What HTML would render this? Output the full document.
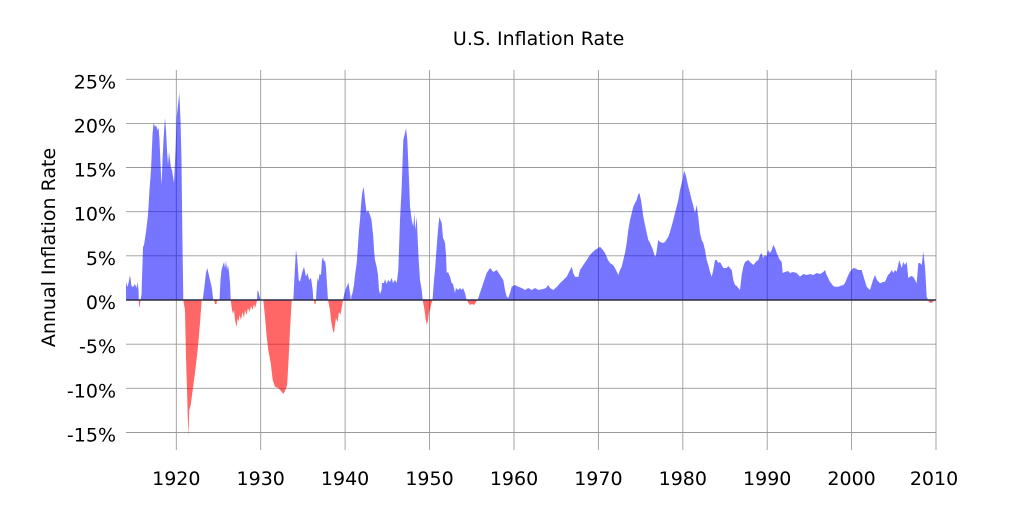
<!DOCTYPE html>
<html>
<head>
<meta charset="utf-8">
<style>
  html, body { margin:0; padding:0; background:#ffffff; }
  svg { display:block; }
  text { font-family: "DejaVu Sans", "Liberation Sans", sans-serif; fill:#000; }
</style>
</head>
<body>
<svg width="1024" height="512" viewBox="0 0 1024 512" xmlns="http://www.w3.org/2000/svg">
  <rect x="0" y="0" width="1024" height="512" fill="#ffffff"/>
  <defs>
    <clipPath id="above"><rect x="0" y="0" width="1024" height="300"/></clipPath>
    <clipPath id="below"><rect x="0" y="300" width="1024" height="212"/></clipPath>
  </defs>

  <!-- horizontal gridlines -->
  <g stroke="#9a9a9a" stroke-width="0.9">
    <line x1="126" y1="79.3" x2="936" y2="79.3"/>
    <line x1="126" y1="123.4" x2="936" y2="123.4"/>
    <line x1="126" y1="167.5" x2="936" y2="167.5"/>
    <line x1="126" y1="211.7" x2="936" y2="211.7"/>
    <line x1="126" y1="255.8" x2="936" y2="255.8"/>
    <line x1="126" y1="344.2" x2="936" y2="344.2"/>
    <line x1="126" y1="388.3" x2="936" y2="388.3"/>
    <line x1="126" y1="432.5" x2="936" y2="432.5"/>
  </g>
  <!-- vertical gridlines -->
  <g stroke="#9a9a9a" stroke-width="0.9">
    <line x1="176.3" y1="70" x2="176.3" y2="450"/>
    <line x1="260.7" y1="70" x2="260.7" y2="450"/>
    <line x1="345.1" y1="70" x2="345.1" y2="450"/>
    <line x1="429.5" y1="70" x2="429.5" y2="450"/>
    <line x1="514" y1="70" x2="514" y2="450"/>
    <line x1="598.4" y1="70" x2="598.4" y2="450"/>
    <line x1="682.8" y1="70" x2="682.8" y2="450"/>
    <line x1="767.2" y1="70" x2="767.2" y2="450"/>
    <line x1="851.6" y1="70" x2="851.6" y2="450"/>
    <line x1="936" y1="70" x2="936" y2="450"/>
  </g>

  <!-- data polygon (reused) -->
  <defs>
    <polygon id="series" points="
126,300 126,282 127.5,287 128.5,283 130,275 131.5,286 133,287 135,284 136.5,288 137.5,282 138.5,290 139,305 139.5,308 140.5,300 141.5,295 143,247 144,245 146,232 148,215 149.5,190 151,170 152.5,135 153.5,123 155,127 156,125 157.5,130 158.5,128 159.5,140 161,175 161.7,185 162.5,160 163.5,140 165,118 166,130 167,150 168,165 169,152 170,160 171,168 172,170 174,183 175.5,150 176.7,117 178,105 179.3,93 180.5,120 181.5,160 182.3,230 183.3,300
185,310 186,356.7 187.3,400 188.3,436.7 189.3,410 190.7,405 192.7,390 195,373 197.3,353 198.3,343 200,323 201.7,300
202.7,300 204,290 206,273 207.3,268 209.3,277 211.7,287 213.3,300
214,300 215,304 216.5,304 217,300
219.5,300 220.5,280 221.5,270 223,265 224,262 225,268 226,261 227,270 228,265 229,272 230,283 230.7,300
232,310 233,314 234,310 235,320 236.7,327 237.5,318 238.5,322 239.5,315 241,320 242.5,312 244,318 245,310 246.5,315 248,308 249.5,312 251,306 252.5,310 254,304 255,308 256.5,303 257,300
257.5,290 258.5,292 259.5,296 260.5,300
263.3,300 265,316.7 266.7,336.7 268.3,350 270.7,363 272.7,380 275,386.7 278.3,388 281.7,391.7 283.3,394 285,391 286.7,386.7 287.3,383 288.7,356.7 290,330 291.7,300
293.3,300 295,266.7 296,250 297.3,260 298.7,280 300,281.7 302,273 304,266.7 306,276.7 307.3,273 309.3,280 311,278 312.7,290 313.3,300
314,300 314.5,304 315.5,304 316,300
316.5,290 317.5,278 318.5,281 319.5,274 321,275 322,260 323,257 324,262 325,260 326,268 327,285 328,300
330,310 331,320 332,326 333,331 334,333 335,325 336,318 337.5,322 339,312 340.5,315 342,306 343,300
344.5,293 345.5,290 346.5,287 347.5,285 348.3,282 349.5,290 350.5,296 350.7,302 351.5,296 352.5,293 354,285 355,275 356.7,263 358,245 359,230 360,220 361,205 362,195 363.3,187 364,190 365,200 366.7,213 368,210 370,215 371.5,220 373.3,237 374,250 375,260 376.7,267 378,275 379,290 380,294 381.5,290 382,283 384,283 385,279 386.7,284 388,280 390,282 391.7,278 393,283 395,280 396.7,283
398.3,270 400,220 401.7,186.7 403.3,140 405,133 406,128 407.3,140 408.3,163 409.3,186.7 410,206.7 411.7,220 413.3,226.7 414.3,213 415.3,230 416.7,216.7 417.7,240 418.7,260 420,280 421.7,290 422.7,300
424.5,310 425.5,318 426.7,325 428,320 429,312 430,310 431,305 432.5,300
434,280 435,270 436.7,246.7 438,230 439.3,216.7 440.5,220 441.7,223 443,238 444,240 445,243 446,255 446.7,273 448,272 450,276.7 451.7,283 453,284 455,293 456,288 458,290 460,288 461.7,290 463,288 465,293 466.7,300
468.5,303 470,305 472,304 474,305 476,302 477.3,300
478.3,298 483.3,283 486.7,273 490,268 491.7,270 493.3,272 496.7,270 500,275 503.3,280 505,290 506.7,296.7 508.3,298 510,293 511.7,286.7 515,285 518.3,286.7 521.7,288 525,290 528.3,288 531.7,290 535,288 538.3,290 543.3,289 546,288 548.3,285
550,288 553.3,290 556.7,287 560,283.3 563.3,280 566.7,276.7 570,270 571.7,266.7 573.3,273 575,276.7 578.3,277 580,270 583.3,265 586.7,260 590,255 591.7,253 595,250 598.3,248 600,246.7 603,250 605,253 608,260 610,263 613,265 615,268 618.3,275 620,270 621.7,266.7 623.3,260 625,253 626.7,243 628.3,230 630,220 632,212 633.3,206.7 635,203 636.7,200 638,195 639.3,192.7 641,200 643.3,216.7 646.7,233 648.3,240 650,243 653,250 655,256.7 656,255 658.3,240 660,242 663,243 665,242 668.3,236.7 670,232 673.3,220 675,213 678.3,200 680,190 681.7,183.3 683,177 684.3,170.7 686,176 688.3,186.7 690,193 691.7,200 693.3,206 695,213 696.7,205 698,215 700,233 701.7,240 703.3,243 705,250 706.7,260 708.3,265 710,272 711.7,276.7 713.3,270 715,260 716.7,260 718.3,263 720,262 721.7,265 723.3,268 726.7,268 728.3,266 731.7,270 733.3,280 735,285 736.7,286 738.3,288 740,290 741.7,275 743.3,266.7 745,262 748.3,260 750,262 753.3,265 756.7,261 758.3,260 760,255
761.7,253 763,258 765,255 766.7,256.7 768,250 770,253 771.7,250 773.3,245 775,248 776.7,253 778.3,256.7 780,260 781.7,262 782.7,273 785,272 788,271 790,273 793,272 796.7,273 800,276.7 803.3,274 806.7,275 810,274 813.3,275 816.7,273 820,274 823.3,272 825,270 826.7,275 830,281.7 833.3,286 835,286.7 838.3,286.7 840,286 843.3,285 845,283 848.3,275 850,271.7 853.3,268 855,268.3 858.3,270 861.7,270 864,278 866.7,286.7 870,290 873,280 875,275 877,280 880,283.3 883,282 885,281.7 888,275 890,273 891.7,270 893.3,273 895,270 896.7,271.7 899.3,260 901.7,268 903.3,262 905,265 906.7,261.7 908.3,278 911,276 913.3,276.7 916.7,283.3 918.3,263.3 920,263 921.7,265 923.3,251.7 925,266.7 926.7,297 928.3,300 929,302 931,303 933,302 934,300
"/>
  </defs>

  <use href="#series" fill="#0000ff" fill-opacity="0.54" clip-path="url(#above)"/>
  <use href="#series" fill="#ff0000" fill-opacity="0.6" clip-path="url(#below)"/>

  <!-- zero line -->
  <line x1="126" y1="300" x2="936" y2="300" stroke="#2c2c44" stroke-width="1.6"/>

  <!-- title -->
  <text x="538.6" y="45" font-size="19" text-anchor="middle">U.S. Inflation Rate</text>

  <!-- y axis label -->
  <text transform="translate(55,247.5) rotate(-90)" font-size="19" text-anchor="middle">Annual Inflation Rate</text>

  <!-- y tick labels -->
  <g font-size="19" text-anchor="end">
    <text x="116" y="88.3">25%</text>
    <text x="116" y="132.4">20%</text>
    <text x="116" y="176.5">15%</text>
    <text x="116" y="220.7">10%</text>
    <text x="116" y="264.8">5%</text>
    <text x="116" y="309">0%</text>
    <text x="116" y="353.2">-5%</text>
    <text x="116" y="397.3">-10%</text>
    <text x="116" y="441.5">-15%</text>
  </g>

  <!-- x tick labels -->
  <g font-size="19" text-anchor="middle">
    <text x="176.3" y="485">1920</text>
    <text x="260.7" y="485">1930</text>
    <text x="345.1" y="485">1940</text>
    <text x="429.5" y="485">1950</text>
    <text x="514" y="485">1960</text>
    <text x="598.4" y="485">1970</text>
    <text x="682.8" y="485">1980</text>
    <text x="767.2" y="485">1990</text>
    <text x="851.6" y="485">2000</text>
    <text x="934" y="485">2010</text>
  </g>
</svg>
</body>
</html>
